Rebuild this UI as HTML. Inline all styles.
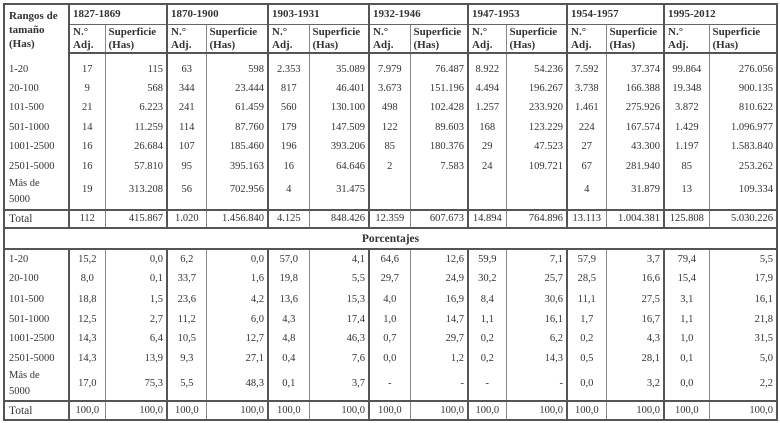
<!DOCTYPE html>
<html><head><meta charset="utf-8"><style>
html,body{margin:0;padding:0;background:#fff;width:780px;height:423px;overflow:hidden}
table{position:absolute;left:3px;top:3px;border-collapse:collapse;table-layout:fixed;font-family:"Liberation Serif",serif;font-size:10.5px;color:#333;border:2px solid #555}
td{padding:0 3px;white-space:nowrap;overflow:hidden;line-height:12px}
td.a{text-align:center;border-left:2px solid #555}
td.s{text-align:right;border-left:1px solid #888}
td.l{text-align:left;padding-left:4px}
.h td{font-weight:bold;text-align:left;vertical-align:top;font-size:11px}
.sub td{line-height:13px;padding-top:1px}
.hb td{border-bottom:2px solid #555}
.tb td{border-top:2px solid #555}
.r1 td{padding-top:7px}
</style></head><body>
<table>
<colgroup><col style="width:65px"><col style="width:36px"><col style="width:62px"><col style="width:39px"><col style="width:62px"><col style="width:41px"><col style="width:60px"><col style="width:41px"><col style="width:58px"><col style="width:38px"><col style="width:61px"><col style="width:39px"><col style="width:58px"><col style="width:45px"><col style="width:68px"></colgroup>
<tr class="h" style="height:20px"><td rowspan="2" style="padding-top:4px;padding-left:4px;line-height:14px">Rangos de<br>tamaño<br>(Has)</td>
<td colspan="2" style="border-left:2px solid #555;border-bottom:1px solid #666;vertical-align:middle">1827-1869</td>
<td colspan="2" style="border-left:2px solid #555;border-bottom:1px solid #666;vertical-align:middle">1870-1900</td>
<td colspan="2" style="border-left:2px solid #555;border-bottom:1px solid #666;vertical-align:middle">1903-1931</td>
<td colspan="2" style="border-left:2px solid #555;border-bottom:1px solid #666;vertical-align:middle">1932-1946</td>
<td colspan="2" style="border-left:2px solid #555;border-bottom:1px solid #666;vertical-align:middle">1947-1953</td>
<td colspan="2" style="border-left:2px solid #555;border-bottom:1px solid #666;vertical-align:middle">1954-1957</td>
<td colspan="2" style="border-left:2px solid #555;border-bottom:1px solid #666;vertical-align:middle">1995-2012</td></tr>
<tr class="h hb sub" style="height:29px">
<td style="border-left:2px solid #555">N.°<br>Adj.</td><td style="border-left:1px solid #888">Superficie<br>(Has)</td>
<td style="border-left:2px solid #555">N.°<br>Adj.</td><td style="border-left:1px solid #888">Superficie<br>(Has)</td>
<td style="border-left:2px solid #555">N.°<br>Adj.</td><td style="border-left:1px solid #888">Superficie<br>(Has)</td>
<td style="border-left:2px solid #555">N.°<br>Adj.</td><td style="border-left:1px solid #888">Superficie<br>(Has)</td>
<td style="border-left:2px solid #555">N.°<br>Adj.</td><td style="border-left:1px solid #888">Superficie<br>(Has)</td>
<td style="border-left:2px solid #555">N.°<br>Adj.</td><td style="border-left:1px solid #888">Superficie<br>(Has)</td>
<td style="border-left:2px solid #555">N.°<br>Adj.</td><td style="border-left:1px solid #888">Superficie<br>(Has)</td></tr>
<tr class="r1" style="height:26px"><td class="l">1-20</td><td class="a">17</td><td class="s">115</td><td class="a">63</td><td class="s">598</td><td class="a">2.353</td><td class="s">35.089</td><td class="a">7.979</td><td class="s">76.487</td><td class="a">8.922</td><td class="s">54.236</td><td class="a">7.592</td><td class="s">37.374</td><td class="a">99.864</td><td class="s">276.056</td></tr>
<tr style="height:19px"><td class="l">20-100</td><td class="a">9</td><td class="s">568</td><td class="a">344</td><td class="s">23.444</td><td class="a">817</td><td class="s">46.401</td><td class="a">3.673</td><td class="s">151.196</td><td class="a">4.494</td><td class="s">196.267</td><td class="a">3.738</td><td class="s">166.388</td><td class="a">19.348</td><td class="s">900.135</td></tr>
<tr style="height:20px"><td class="l">101-500</td><td class="a">21</td><td class="s">6.223</td><td class="a">241</td><td class="s">61.459</td><td class="a">560</td><td class="s">130.100</td><td class="a">498</td><td class="s">102.428</td><td class="a">1.257</td><td class="s">233.920</td><td class="a">1.461</td><td class="s">275.926</td><td class="a">3.872</td><td class="s">810.622</td></tr>
<tr style="height:19px"><td class="l">501-1000</td><td class="a">14</td><td class="s">11.259</td><td class="a">114</td><td class="s">87.760</td><td class="a">179</td><td class="s">147.509</td><td class="a">122</td><td class="s">89.603</td><td class="a">168</td><td class="s">123.229</td><td class="a">224</td><td class="s">167.574</td><td class="a">1.429</td><td class="s">1.096.977</td></tr>
<tr style="height:20px"><td class="l">1001-2500</td><td class="a">16</td><td class="s">26.684</td><td class="a">107</td><td class="s">185.460</td><td class="a">196</td><td class="s">393.206</td><td class="a">85</td><td class="s">180.376</td><td class="a">29</td><td class="s">47.523</td><td class="a">27</td><td class="s">43.300</td><td class="a">1.197</td><td class="s">1.583.840</td></tr>
<tr style="height:19px"><td class="l">2501-5000</td><td class="a">16</td><td class="s">57.810</td><td class="a">95</td><td class="s">395.163</td><td class="a">16</td><td class="s">64.646</td><td class="a">2</td><td class="s">7.583</td><td class="a">24</td><td class="s">109.721</td><td class="a">67</td><td class="s">281.940</td><td class="a">85</td><td class="s">253.262</td></tr>
<tr style="height:34px"><td class="l" style="line-height:16px;vertical-align:top">Más de<br>5000</td><td class="a" style="padding-bottom:6px">19</td><td class="s" style="padding-bottom:6px">313.208</td><td class="a" style="padding-bottom:6px">56</td><td class="s" style="padding-bottom:6px">702.956</td><td class="a" style="padding-bottom:6px">4</td><td class="s" style="padding-bottom:6px">31.475</td><td class="a"></td><td class="s"></td><td class="a"></td><td class="s"></td><td class="a" style="padding-bottom:6px">4</td><td class="s" style="padding-bottom:6px">31.879</td><td class="a" style="padding-bottom:6px">13</td><td class="s" style="padding-bottom:6px">109.334</td></tr>
<tr class="tb hb" style="height:18px"><td class="l" style="font-size:11.5px">Total</td><td class="a">112</td><td class="s">415.867</td><td class="a">1.020</td><td class="s">1.456.840</td><td class="a">4.125</td><td class="s">848.426</td><td class="a">12.359</td><td class="s">607.673</td><td class="a">14.894</td><td class="s">764.896</td><td class="a">13.113</td><td class="s">1.004.381</td><td class="a">125.808</td><td class="s">5.030.226</td></tr>
<tr class="hb" style="height:21px"><td colspan="15" style="text-align:center;font-weight:bold;font-size:11.5px">Porcentajes</td></tr>
<tr style="height:20px"><td class="l">1-20</td><td class="a">15,2</td><td class="s">0,0</td><td class="a">6,2</td><td class="s">0,0</td><td class="a">57,0</td><td class="s">4,1</td><td class="a">64,6</td><td class="s">12,6</td><td class="a">59,9</td><td class="s">7,1</td><td class="a">57,9</td><td class="s">3,7</td><td class="a">79,4</td><td class="s">5,5</td></tr>
<tr style="height:20px"><td class="l">20-100</td><td class="a">8,0</td><td class="s">0,1</td><td class="a">33,7</td><td class="s">1,6</td><td class="a">19,8</td><td class="s">5,5</td><td class="a">29,7</td><td class="s">24,9</td><td class="a">30,2</td><td class="s">25,7</td><td class="a">28,5</td><td class="s">16,6</td><td class="a">15,4</td><td class="s">17,9</td></tr>
<tr style="height:21px"><td class="l">101-500</td><td class="a">18,8</td><td class="s">1,5</td><td class="a">23,6</td><td class="s">4,2</td><td class="a">13,6</td><td class="s">15,3</td><td class="a">4,0</td><td class="s">16,9</td><td class="a">8,4</td><td class="s">30,6</td><td class="a">11,1</td><td class="s">27,5</td><td class="a">3,1</td><td class="s">16,1</td></tr>
<tr style="height:19px"><td class="l">501-1000</td><td class="a">12,5</td><td class="s">2,7</td><td class="a">11,2</td><td class="s">6,0</td><td class="a">4,3</td><td class="s">17,4</td><td class="a">1,0</td><td class="s">14,7</td><td class="a">1,1</td><td class="s">16,1</td><td class="a">1,7</td><td class="s">16,7</td><td class="a">1,1</td><td class="s">21,8</td></tr>
<tr style="height:20px"><td class="l">1001-2500</td><td class="a">14,3</td><td class="s">6,4</td><td class="a">10,5</td><td class="s">12,7</td><td class="a">4,8</td><td class="s">46,3</td><td class="a">0,7</td><td class="s">29,7</td><td class="a">0,2</td><td class="s">6,2</td><td class="a">0,2</td><td class="s">4,3</td><td class="a">1,0</td><td class="s">31,5</td></tr>
<tr style="height:19px"><td class="l">2501-5000</td><td class="a">14,3</td><td class="s">13,9</td><td class="a">9,3</td><td class="s">27,1</td><td class="a">0,4</td><td class="s">7,6</td><td class="a">0,0</td><td class="s">1,2</td><td class="a">0,2</td><td class="s">14,3</td><td class="a">0,5</td><td class="s">28,1</td><td class="a">0,1</td><td class="s">5,0</td></tr>
<tr style="height:32px"><td class="l" style="line-height:16px">Más de<br>5000</td><td class="a">17,0</td><td class="s">75,3</td><td class="a">5,5</td><td class="s">48,3</td><td class="a">0,1</td><td class="s">3,7</td><td class="a">-</td><td class="s">-</td><td class="a">-</td><td class="s">-</td><td class="a">0,0</td><td class="s">3,2</td><td class="a">0,0</td><td class="s">2,2</td></tr>
<tr class="tb" style="height:19px"><td class="l" style="font-size:11.5px">Total</td><td class="a">100,0</td><td class="s">100,0</td><td class="a">100,0</td><td class="s">100,0</td><td class="a">100,0</td><td class="s">100,0</td><td class="a">100,0</td><td class="s">100,0</td><td class="a">100,0</td><td class="s">100,0</td><td class="a">100,0</td><td class="s">100,0</td><td class="a">100,0</td><td class="s">100,0</td></tr>
</table>
</body></html>
